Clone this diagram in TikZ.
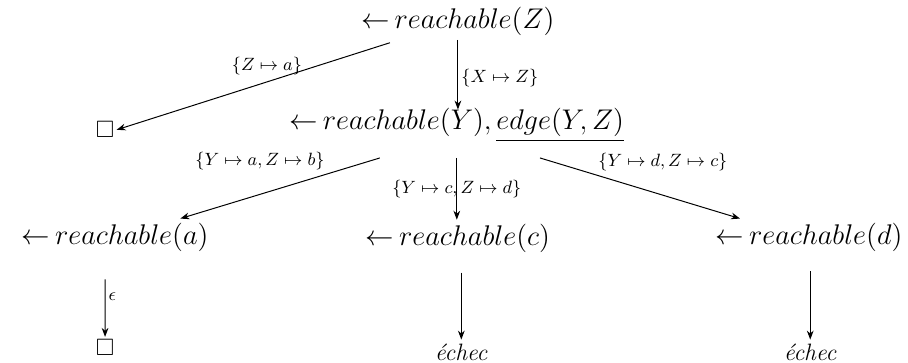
\documentclass[tikz,border=0pt]{standalone}
\usepackage{amssymb}
\usetikzlibrary{positioning,arrows.meta}
\begin{document}
\begin{tikzpicture}[
  goal/.style={font=\Large, inner sep=2pt},
  lab/.style={font=\small, inner sep=1.5pt},
  arr/.style={-{Stealth[length=1.6mm,width=1.2mm]}, line width=0.5pt}
]
\useasboundingbox (0,0) rectangle (16.16,-6.46);
\node[goal] (top) at (8.15,-0.38) {${\leftarrow}\,reachable(Z)$};
\node[font=\large, inner sep=1pt] (box1) at (1.87,-2.31) {$\Box$};
\node[goal] (mid) at (8.13,-2.23) {${\leftarrow}\,reachable(Y), \underline{edge(Y,Z)}$};
\node[goal] (ra) at (2.05,-4.22) {${\leftarrow}\,reachable(a)$};
\node[goal] (rc) at (8.15,-4.24) {${\leftarrow}\,reachable(c)$};
\node[goal] (rd) at (14.40,-4.22) {${\leftarrow}\,reachable(d)$};
\node[font=\large, inner sep=1pt] (box2) at (1.87,-6.18) {$\Box$};
\node[font=\large, inner sep=2pt] (e1) at (8.21,-6.27) {\textit{\'echec}};
\node[font=\large, inner sep=2pt] (e2) at (14.42,-6.27) {\textit{\'echec}};

\draw[arr] ([shift={(-12.1mm,-0.5mm)}]top.south) -- (box1.east)
  node[lab, pos=0.45, above=2pt] {$\{Z\mapsto a\}$};
\draw[arr, shorten >=-1mm] (top.south) -- (top.south |- mid.north)
  node[lab, pos=0.6, right] {$\{X\mapsto Z\}$};
\draw[arr] ([shift={(-13.7mm,-2mm)}]mid.south) -- ([xshift=11.6mm]ra.north)
  node[lab, pos=0.26, anchor=south east] {$\{Y\mapsto a, Z\mapsto b\}$};
\draw[arr] ([yshift=-2mm]mid.south) -- (mid.south |- rc.north)
  node[lab, midway] {$\{Y\mapsto c, Z\mapsto d\}$};
\draw[arr] ([shift={(14.8mm,-2mm)}]mid.south) -- ([xshift=-12.3mm]rd.north)
  node[lab, pos=0.275, anchor=south west] {$\{Y\mapsto d, Z\mapsto c\}$};
\draw[arr, shorten <=12pt] ([xshift=-1.8mm]ra.south) -- (box2.north)
  node[lab, midway, right] {$\epsilon$};
\draw[arr, shorten <=8pt] (e1.north |- rc.south) -- (e1.north);
\draw[arr, shorten <=8pt] (e2.north |- rd.south) -- (e2.north);
\end{tikzpicture}
\end{document}
